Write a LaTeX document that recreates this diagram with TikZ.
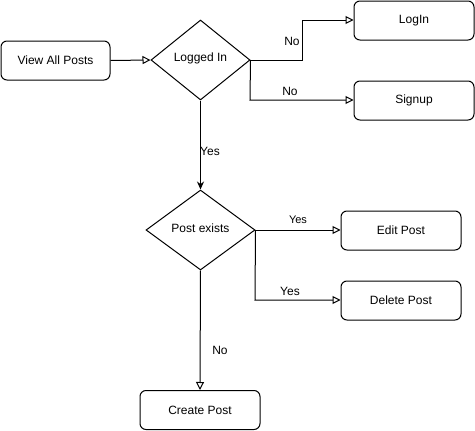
\documentclass[tikz,border=0pt]{standalone}
\usepackage{fontspec}
\setmainfont{Liberation Sans}
\usetikzlibrary{arrows.meta,shapes.geometric}
\begin{document}
\begin{tikzpicture}[x=1pt,y=-1pt,
  box/.style={draw,line width=1pt,rounded corners=6pt,minimum width=120pt,minimum height=39pt,inner sep=0pt,font=\fontsize{12}{14}\selectfont},
  dia/.style={draw,line width=1pt,diamond,inner sep=0pt,font=\fontsize{12}{14}\selectfont},
  conn/.style={draw,line width=1pt,-{Triangle[open,length=8pt,width=8pt]}},
  lbl/.style={font=\fontsize{12}{14}\selectfont,inner sep=0pt}]
\useasboundingbox (0,0) rectangle (475,431);
\node[box,minimum width=109pt] (view) at (55.5,60.5) {View All Posts};
\node[dia,minimum width=99pt,minimum height=80pt] (logged) at (200.5,60) {};
\node[lbl] (loggedt) at (200.5,58.5) {Logged In};
\node[box] (login) at (414,20.5) {LogIn};
\node[box] (signup) at (414,100.5) {Signup};
\node[dia,minimum width=109pt,minimum height=80pt] (exists) at (200.5,230) {};
\node[lbl] (existst) at (200.5,228.5) {Post exists};
\node[box] (edit) at (401,230.5) {Edit Post};
\node[box] (delete) at (401,300.5) {Delete Post};
\node[box] (create) at (200,410) {Create Post};
\coordinate (b1) at (302,60);
\coordinate (b2) at (302,20);
\coordinate (b3) at (250,100);
\coordinate (b4) at (255,300);
\draw[conn] (view.east) -- (logged.west);
\draw[conn] (logged.east) -- (b1) -- (b2) -- (login.west |- b2);
\draw[conn] (logged.east) -- (b3) -- (signup.west |- b3);
\draw[line width=1pt,-{Stealth[length=8pt,width=7pt]}] (logged.south) -- (exists.north);
\draw[conn] (exists.east) -- (edit.west |- exists.east);
\draw[conn] (exists.east) -- (b4) -- (delete.west |- b4);
\draw[conn] (exists.south) -- (create.north);
\node[lbl] (l1) at (292,41) {No};
\node[lbl] (l2) at (290,91) {No};
\node[lbl] (l3) at (210,151) {Yes};
\node[lbl,font=\fontsize{11}{13}\selectfont] (l4) at (298,220) {Yes};
\node[lbl] (l5) at (290,291) {Yes};
\node[lbl] (l6) at (220,350) {No};
\end{tikzpicture}
\end{document}
